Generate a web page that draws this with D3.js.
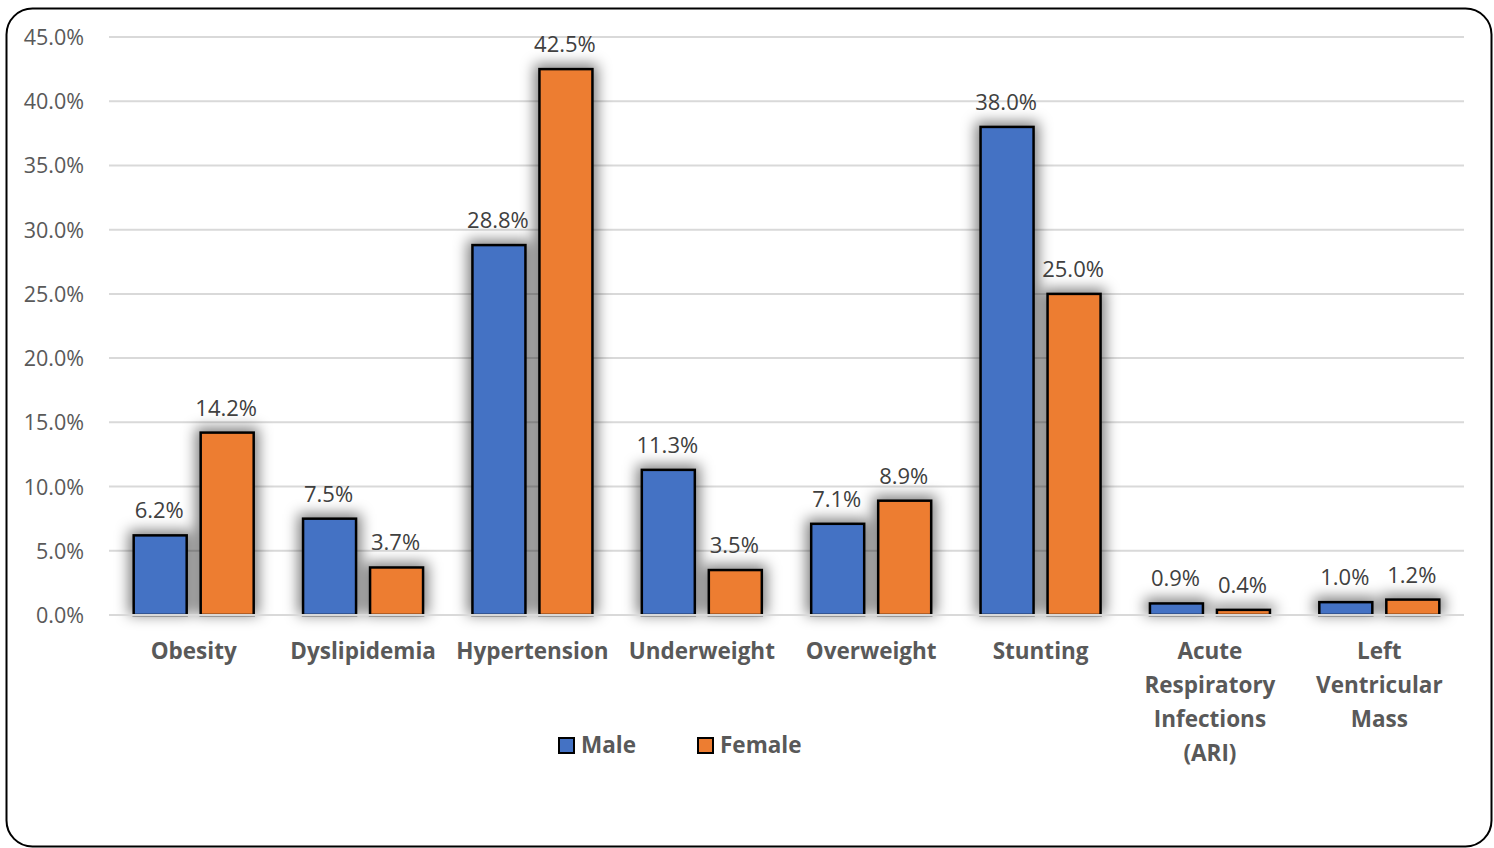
<!DOCTYPE html>
<html>
<head>
<meta charset="utf-8">
<script src="https://cdn.jsdelivr.net/npm/d3@7"></script>
<style>
  html, body { margin: 0; padding: 0; background: #fff; }
  svg { display: block; }
</style>
</head>
<body>
<svg id="chart" width="1494" height="848"></svg>
<script>
// Prevalence by sex across health conditions
const categories = [
  ["Obesity"],
  ["Dyslipidemia"],
  ["Hypertension"],
  ["Underweight"],
  ["Overweight"],
  ["Stunting"],
  ["Acute", "Respiratory", "Infections", "(ARI)"],
  ["Left", "Ventricular", "Mass"]
];
const maleValues   = [6.2, 7.5, 28.8, 11.3, 7.1, 38.0, 0.9, 1.0];
const femaleValues = [14.2, 3.7, 42.5, 3.5, 8.9, 25.0, 0.4, 1.2];
const seriesNames  = ["Male", "Female"];
const seriesColors = ["#4472C4", "#ED7D31"];
const yTicks = [0, 5, 10, 15, 20, 25, 30, 35, 40, 45];

const svg = d3.select("#chart");
const FONT = "'Open Sans', sans-serif";

// outer rounded frame
svg.append("rect")
  .attr("x", 6.5).attr("y", 8.5)
  .attr("width", 1485).attr("height", 838)
  .attr("rx", 26).attr("ry", 26)
  .attr("fill", "#fff").attr("stroke", "#000").attr("stroke-width", 2);

const plot = { left: 109, right: 1464, top: 37, bottom: 615 };

const keys = categories.map(c => c.join(" "));
const x = d3.scaleBand().domain(keys).range([plot.left, plot.right]);
const y = d3.scaleLinear().domain([0, 45]).range([plot.bottom, plot.top]);

// blur used for the halo drawn behind each bar
const defs = svg.append("defs");
defs.append("filter").attr("id", "halo")
  .attr("filterUnits", "userSpaceOnUse")
  .attr("x", 0).attr("y", 0).attr("width", 1494).attr("height", 848)
  .append("feGaussianBlur").attr("stdDeviation", 7);

// gridlines
svg.append("g").selectAll("line").data(yTicks).join("line")
  .attr("x1", plot.left).attr("x2", plot.right)
  .attr("y1", d => y(d)).attr("y2", d => y(d))
  .attr("stroke", "#D9D9D9").attr("stroke-width", 2);

// y axis labels
const yAxis = d3.axisLeft(y).tickValues(yTicks).tickFormat(d => d.toFixed(1) + "%").tickSize(0).tickPadding(0);
const gy = svg.append("g").attr("transform", "translate(84,0)").call(yAxis);
gy.select(".domain").remove();
gy.selectAll("text")
  .attr("font-family", FONT).attr("font-size", 21.5)
  .attr("fill", "#595959").attr("dy", "0.35em");

// bars
const barW = 53, gap = 14;
const groupW = barW * 2 + gap;
const data = keys.map((k, i) => ({ key: k, vals: [maleValues[i], femaleValues[i]] }));
const barX = (d, s) => x(d.key) + x.bandwidth() / 2 - groupW / 2 + s * (barW + gap);
const flat = data.flatMap(d => d.vals.map((v, s) => ({ key: d.key, v, s })));

// halo layer
svg.append("g").attr("filter", "url(#halo)")
  .selectAll("rect").data(flat).join("rect")
  .attr("x", d => barX(d, d.s) - 5)
  .attr("y", d => y(d.v) - 5)
  .attr("width", barW + 10)
  .attr("height", d => y(0) - y(d.v) + 5)
  .attr("fill", "#000").attr("fill-opacity", 0.5);

// bar layer
svg.append("g").selectAll("rect").data(flat).join("rect")
  .attr("x", d => barX(d, d.s))
  .attr("y", d => y(d.v))
  .attr("width", barW)
  .attr("height", d => y(0) - y(d.v))
  .attr("fill", d => seriesColors[d.s])
  .attr("stroke", "#000").attr("stroke-width", 2.5);

// value labels
svg.append("g").selectAll("text").data(flat).join("text")
  .attr("x", d => barX(d, d.s) + barW / 2 - 1)
  .attr("y", d => y(d.v) - 17)
  .attr("text-anchor", "middle")
  .attr("font-family", FONT).attr("font-size", 22)
  .attr("fill", "#404040")
  .text(d => d.v.toFixed(1) + "%");

// baseline
svg.append("line")
  .attr("x1", plot.left).attr("x2", plot.right)
  .attr("y1", y(0)).attr("y2", y(0))
  .attr("stroke", "#D9D9D9").attr("stroke-width", 2);

// category labels
const cat = svg.append("g").selectAll("text").data(categories).join("text")
  .attr("x", (d, i) => x(keys[i]) + x.bandwidth() / 2)
  .attr("y", 659)
  .attr("text-anchor", "middle")
  .attr("font-family", FONT).attr("font-weight", "bold").attr("font-size", 22.5)
  .attr("fill", "#595959");
cat.selectAll("tspan").data(d => d).join("tspan")
  .attr("x", function () { return d3.select(this.parentNode).attr("x"); })
  .attr("dy", (d, i) => i === 0 ? 0 : 34)
  .text(d => d);

// legend
const legendX = [559, 698];
const lg = svg.append("g").selectAll("g").data(seriesNames).join("g")
  .attr("transform", (d, i) => `translate(${legendX[i]},738)`);
lg.append("rect").attr("width", 15).attr("height", 15)
  .attr("fill", (d, i) => seriesColors[i]).attr("stroke", "#000").attr("stroke-width", 2);
lg.append("text").attr("x", 22).attr("y", 15)
  .attr("font-family", FONT).attr("font-weight", "bold").attr("font-size", 22.5)
  .attr("fill", "#595959")
  .text(d => d);
</script>
</body>
</html>
